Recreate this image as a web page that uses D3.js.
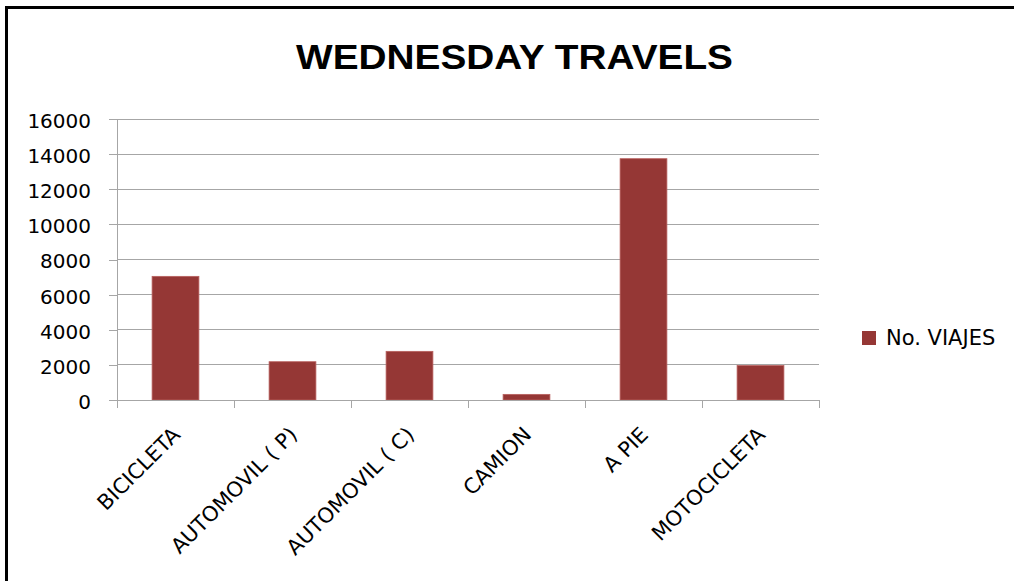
<!DOCTYPE html>
<html>
<head>
<meta charset="utf-8">
<script src="https://cdn.jsdelivr.net/npm/d3@7"></script>
<style>
  html, body { margin: 0; padding: 0; background: #fff; }
  svg { display: block; }
</style>
</head>
<body>
<svg id="chart" width="1014" height="581"></svg>
<script>
const categories = ["BICICLETA", "AUTOMOVIL ( P)", "AUTOMOVIL ( C)", "CAMION", "A PIE", "MOTOCICLETA"];
const viajes = [7040, 2180, 2770, 320, 13740, 1960];
const yTicks = [0, 2000, 4000, 6000, 8000, 10000, 12000, 14000, 16000];
const title = "WEDNESDAY TRAVELS";
const seriesName = "No. VIAJES";

const svg = d3.select("#chart");
const W = 1014, H = 581;
svg.append("rect").attr("x", 0).attr("y", 0).attr("width", W).attr("height", H).attr("fill", "#fff");

// frame (only top and left visible in the crop)
svg.append("rect")
  .attr("x", 6.5).attr("y", 7.5).attr("width", 1200).attr("height", 800)
  .attr("fill", "none").attr("stroke", "#000").attr("stroke-width", 3);

const plot = { left: 117, right: 819, top: 119, bottom: 400 };

const x = d3.scaleBand().domain(categories)
  .range([plot.left, plot.right]).paddingInner(0.6).paddingOuter(0.3);
const y = d3.scaleLinear().domain([0, 16000]).range([plot.bottom, plot.top]);

const gridColor = "#a6a6a6";
const font = "'DejaVu Sans', sans-serif";

// gridlines + y ticks
const yAxis = d3.axisLeft(y).tickValues(yTicks).tickSize(8).tickFormat(d3.format("d")).tickPadding(18);
const gy = svg.append("g").attr("transform", `translate(${plot.left},0)`).call(yAxis);
gy.select(".domain").remove();
gy.selectAll(".tick line").attr("stroke", gridColor).attr("shape-rendering", "crispEdges");
gy.selectAll(".tick text")
  .attr("font-family", font).attr("font-size", 20).attr("fill", "#000")
  .attr("dy", "0.42em");

svg.append("g").selectAll("line").data(yTicks).join("line")
  .attr("x1", plot.left).attr("x2", plot.right)
  .attr("y1", d => y(d)).attr("y2", d => y(d))
  .attr("stroke", gridColor).attr("stroke-width", 1).attr("shape-rendering", "crispEdges");

// vertical axis line
svg.append("line")
  .attr("x1", plot.left).attr("x2", plot.left)
  .attr("y1", plot.top).attr("y2", plot.bottom + 8)
  .attr("stroke", gridColor).attr("shape-rendering", "crispEdges");

// category boundary ticks on x axis
const step = x.step();
const gap = step - x.bandwidth();
const bounds = categories.map(c => x(c) - gap / 2).concat([x(categories[categories.length - 1]) + x.bandwidth() + gap / 2]);
svg.append("g").selectAll("line").data(bounds).join("line")
  .attr("x1", d => d).attr("x2", d => d)
  .attr("y1", plot.bottom).attr("y2", plot.bottom + 8)
  .attr("stroke", gridColor).attr("shape-rendering", "crispEdges");

// bars
svg.append("g").selectAll("rect").data(categories).join("rect")
  .attr("x", d => x(d))
  .attr("y", (d, i) => y(viajes[i]))
  .attr("width", x.bandwidth())
  .attr("height", (d, i) => y(0) - y(viajes[i]))
  .attr("fill", "#953735")
  .attr("stroke", "#b8605e").attr("stroke-width", 0.8);

// axis line on top of bars
svg.append("line")
  .attr("x1", plot.left - 8).attr("x2", plot.right)
  .attr("y1", plot.bottom).attr("y2", plot.bottom)
  .attr("stroke", gridColor).attr("shape-rendering", "crispEdges");

// category labels rotated
svg.append("g").selectAll("text").data(categories).join("text")
  .attr("transform", d => `translate(${x(d) + x.bandwidth() / 2 + 6},${plot.bottom + 36}) rotate(-45)`)
  .attr("text-anchor", "end")
  .attr("font-family", font).attr("font-size", 21).attr("fill", "#000")
  .text(d => d);

// title
svg.append("text")
  .attr("x", 514.5).attr("y", 69)
  .attr("text-anchor", "middle")
  .attr("font-family", "'Liberation Sans', Arial, sans-serif").attr("font-weight", "bold")
  .attr("font-size", 35).attr("fill", "#000")
  .attr("textLength", 437).attr("lengthAdjust", "spacingAndGlyphs")
  .text(title);

// legend
const lg = svg.append("g");
lg.append("rect").attr("x", 862).attr("y", 331).attr("width", 14).attr("height", 14)
  .attr("fill", "#953735");
lg.append("text").attr("x", 886).attr("y", 345)
  .attr("font-family", font).attr("font-size", 21).attr("fill", "#000")
  .text(seriesName);
</script>
</body>
</html>
